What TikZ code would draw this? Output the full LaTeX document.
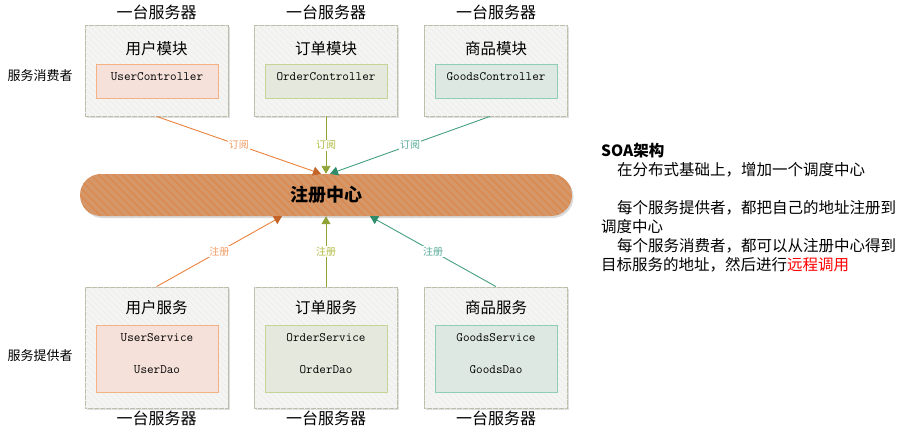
\documentclass[tikz,border=0pt]{standalone}
\usepackage{fontspec}
\setmainfont{Noto Sans CJK SC}
\usetikzlibrary{arrows.meta,patterns.meta,shadows}

\definecolor{hostfill}{RGB}{244,244,242}
\definecolor{hostline}{RGB}{188,190,170}
\definecolor{hosthatch}{RGB}{236,236,234}
\definecolor{userfill}{RGB}{246,225,218}
\definecolor{userline}{RGB}{244,177,131}
\definecolor{orderfill}{RGB}{229,232,220}
\definecolor{orderline}{RGB}{196,212,150}
\definecolor{goodsfill}{RGB}{221,232,227}
\definecolor{goodsline}{RGB}{143,205,182}
\definecolor{regfill}{RGB}{213,150,104}
\definecolor{reghatch}{RGB}{222,134,72}
\definecolor{userarrow}{RGB}{234,130,62}
\definecolor{usertip}{RGB}{196,100,40}
\definecolor{userlabel}{RGB}{242,154,96}
\definecolor{orderarrow}{RGB}{143,163,54}
\definecolor{orderlabel}{RGB}{176,186,64}
\definecolor{goodsarrow}{RGB}{70,160,125}
\definecolor{goodstip}{RGB}{46,140,106}
\definecolor{goodslabel}{RGB}{84,170,150}

\tikzset{
  host/.style={draw=hostline, fill=hostfill, line width=0.8pt, inner sep=0pt,
    minimum width=143pt,
    drop shadow={shadow xshift=1.5pt, shadow yshift=-1.5pt, opacity=0.25},
    postaction={pattern={Lines[angle=-45,distance=4pt,line width=0.7pt]}, pattern color=hosthatch}},
  part/.style={line width=0.8pt, inner sep=0pt, minimum width=122pt, align=center,
    font=\ttfamily\fontsize{12.8}{32}\selectfont, text depth=9pt,
    drop shadow={shadow xshift=1pt, shadow yshift=-1pt, opacity=0.2}},
  title/.style={font=\fontsize{15.5}{18}\selectfont},
  caption/.style={font=\fontsize{16}{18}\selectfont},
  side/.style={font=\fontsize{13}{15}\selectfont},
  registry/.style={fill=regfill, rounded corners=21pt, minimum width=492pt, minimum height=42pt,
    font=\bfseries\fontsize{18}{20}\selectfont,
    drop shadow={shadow xshift=1.5pt, shadow yshift=-2pt, opacity=0.3},
    postaction={pattern={Lines[angle=-45,distance=5.5pt,line width=1pt]}, pattern color=reghatch}},
  link/.style={line width=0.9pt},
  tag/.style={fill=white, inner sep=1pt, font=\fontsize{10}{12}\selectfont},
  note/.style={align=left, inner sep=0pt, font=\fontsize{15.5}{19}\selectfont}
}

\begin{document}
\begin{tikzpicture}[x=1pt,y=-1pt]
\useasboundingbox (0,0) rectangle (912,434);

% Consumers
\node[side] (consumer) at (40,76) {服务消费者};
\node[host, minimum height=91pt] (uhost) at (156.5,70.5) {};
\node[host, minimum height=91pt] (ohost) at (326,70.5) {};
\node[host, minimum height=91pt] (ghost) at (496,70.5) {};
\node[caption] (ucap) at (156.5,12) {一台服务器};
\node[caption] (ocap) at (326,12) {一台服务器};
\node[caption] (gcap) at (496,12) {一台服务器};
\node[title] (utitle) at (156.5,49) {用户模块};
\node[title] (otitle) at (326,49) {订单模块};
\node[title] (gtitle) at (496,49) {商品模块};
\node[part, draw=userline, fill=userfill, minimum height=34pt] (uctrl) at (157,81) {UserController};
\node[part, draw=orderline, fill=orderfill, minimum height=34pt] (octrl) at (326,81) {OrderController};
\node[part, draw=goodsline, fill=goodsfill, minimum height=34pt] (gctrl) at (496,81) {GoodsController};

% Registry
\node[registry] (reg) at (326,195) {注册中心};

% Providers
\node[side] (provider) at (40,356) {服务提供者};
\node[host, minimum height=121pt] (uprov) at (156.5,347.5) {};
\node[host, minimum height=121pt] (oprov) at (326,347.5) {};
\node[host, minimum height=121pt] (gprov) at (496,347.5) {};
\node[caption] (ucap2) at (156.5,418) {一台服务器};
\node[caption] (ocap2) at (326,418) {一台服务器};
\node[caption] (gcap2) at (496,418) {一台服务器};
\node[title] (utitle2) at (156.5,308) {用户服务};
\node[title] (otitle2) at (326,308) {订单服务};
\node[title] (gtitle2) at (496,308) {商品服务};
\node[part, draw=userline, fill=userfill, minimum height=67pt] (usvc) at (157,358.5) {UserService\\UserDao};
\node[part, draw=orderline, fill=orderfill, minimum height=67pt] (osvc) at (326,358.5) {OrderService\\OrderDao};
\node[part, draw=goodsline, fill=goodsfill, minimum height=67pt] (gsvc) at (496,358.5) {GoodsService\\GoodsDao};

% Subscribe arrows
\draw[link, userarrow, -{Triangle[length=8pt,width=9pt,color=usertip]}] (uhost.south) -- node[tag, text=userlabel] {订阅} ([xshift=-5pt]reg.north);
\draw[link, orderarrow, -{Triangle[length=8pt,width=9pt]}] (ohost.south) -- node[tag, text=orderlabel] {订阅} (reg.north);
\draw[link, goodsarrow, -{Triangle[length=8pt,width=9pt,color=goodstip]}] ([xshift=-6pt]ghost.south) -- node[tag, text=goodslabel] {订阅} ([xshift=4pt]reg.north);

% Register arrows
\draw[link, userarrow, -{Triangle[length=8pt,width=9pt,color=usertip]}] (uprov.north) -- node[tag, text=userlabel] {注册} ([xshift=-44pt]reg.south);
\draw[link, orderarrow, -{Triangle[length=8pt,width=9pt]}] (oprov.north) -- node[tag, text=orderlabel] {注册} (reg.south);
\draw[link, goodsarrow, -{Triangle[length=8pt,width=9pt,color=goodstip]}] (gprov.north) -- node[tag, text=goodslabel] {注册} ([xshift=44pt]reg.south);

% Notes
\node[note, anchor=north west] (soa) at (601,143) {\textbf{SOA架构}\\
\hspace*{16pt}在分布式基础上，增加一个调度中心\\[19pt]
\hspace*{16pt}每个服务提供者，都把自己的地址注册到\\
调度中心\\
\hspace*{16pt}每个服务消费者，都可以从注册中心得到\\
目标服务的地址，然后进行\textcolor{red}{远程调用}};
\end{tikzpicture}
\end{document}
